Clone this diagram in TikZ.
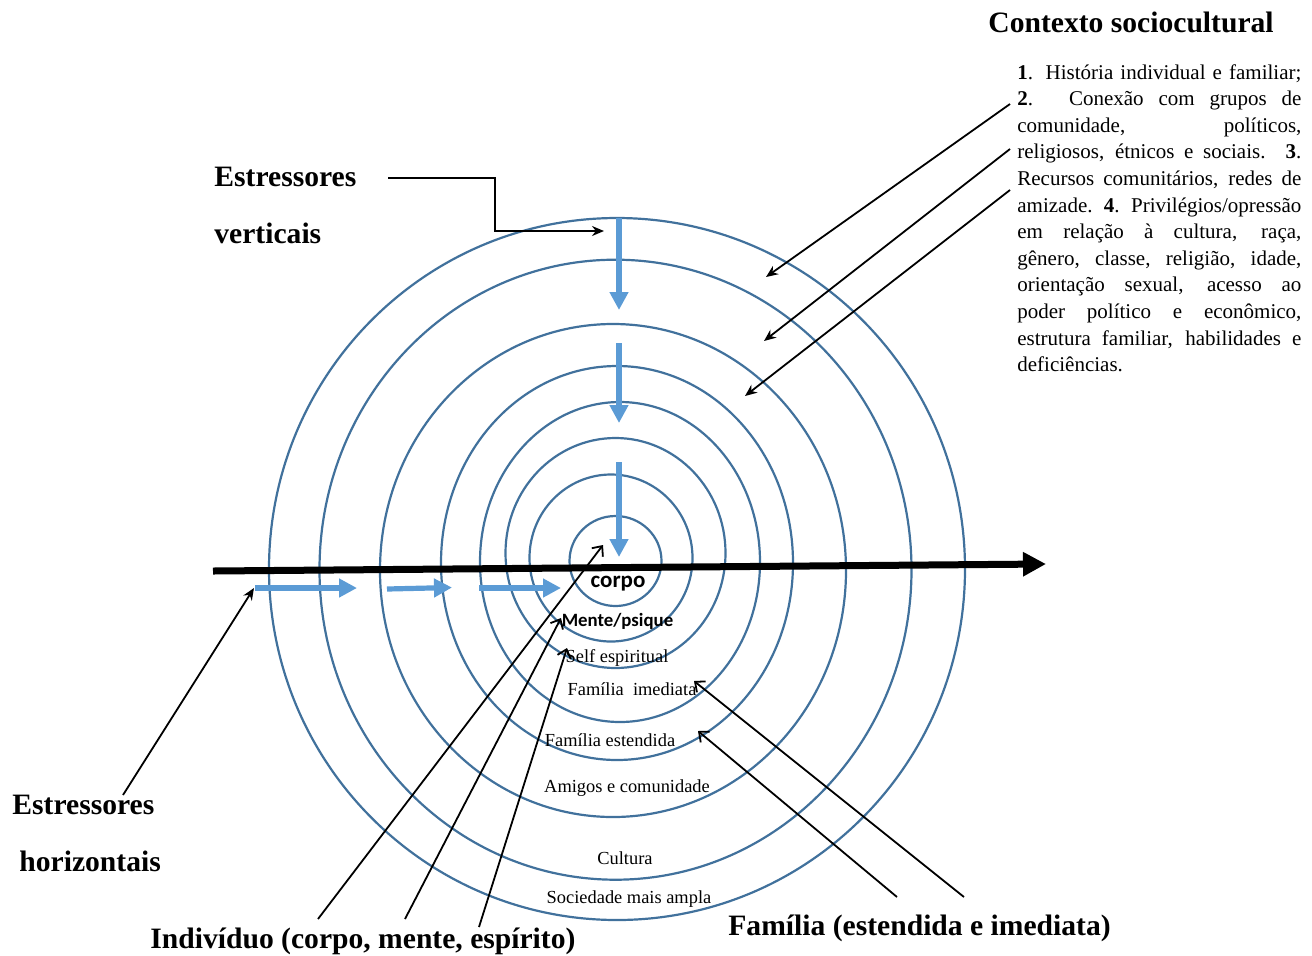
\documentclass[tikz,border=0pt]{standalone}
\usepackage{fontspec}
\setmainfont{Liberation Serif}
\newfontfamily\calibfont{Carlito}
\usetikzlibrary{arrows.meta}
\definecolor{ringblue}{RGB}{65,113,156}
\definecolor{flowblue}{RGB}{91,155,213}
\tikzset{
  ring/.style={draw=ringblue, line width=1.1pt},
  flow/.style={draw=flowblue, line width=2.6pt, -{Triangle[length=9pt,width=9pt]}},
  axisline/.style={line width=3.5pt, -{Triangle[length=11.5pt,width=11.5pt]}},
  pointer/.style={line width=0.9pt, -{Stealth[length=6pt,width=5pt]}},
  barb/.style={line width=0.9pt, -{Straight Barb[length=4pt,width=7pt]}},
  heading/.style={inner sep=0pt, anchor=base west, font=\fontsize{14.8}{16}\selectfont\bfseries},
  layer/.style={inner sep=0pt, anchor=base, font=\fontsize{9.2}{10}\selectfont},
}

\begin{document}
\begin{tikzpicture}[x=0.5pt,y=-0.5pt]
  \useasboundingbox (0,0) rectangle (1312,955);
  % the rings, outer to inner
  \foreach \cx/\cy/\rx/\ry in {617/569/348/351, 615.5/569.7/296/310, 613/570.5/233/246.5,
      617/563/176/197, 620/562/140/160, 615.5/553/110/115, 611/558/81.5/83.5, 615.5/561/46/45}
    \draw[ring] (\cx,\cy) ellipse [x radius=\rx, y radius=\ry];

  % horizontal axis
  \coordinate (axL) at (213,571);
  \coordinate (axR) at (1046,564);
  \draw[axisline] (axL) -- (axR);

  % stressor flows
  \draw[flow] (255,588) -- (357,588);
  \draw[flow] (387,589) -- (452,587.5);
  \draw[flow] (479,588) -- (561,588);
  \draw[flow] (619,218) -- (619,310);
  \draw[flow] (619,343) -- (619,423);
  \draw[flow] (619,462) -- (619,557);

  % ring labels
  \node[inner sep=0pt, anchor=base, font=\calibfont\bfseries\fontsize{11.5}{12}\selectfont] (corpo) at (618,587) {corpo};
  \node[inner sep=0pt, anchor=base, font=\calibfont\bfseries\fontsize{9.4}{10}\selectfont] (mente) at (617.5,626) {Mente/psique};
  \node[layer] (self) at (617,662) {Self espiritual};
  \node[layer] (famI) at (632,695) {Família\ \ imediata};
  \node[layer] (famE) at (610,746) {Família estendida};
  \node[layer] (amigos) at (627,792) {Amigos e comunidade};
  \node[layer] (cult) at (625,864) {Cultura};
  \node[layer] (soc) at (629,903) {Sociedade mais ampla};

  % headings
  \node[heading] (ctxT) at (988,32) {Contexto sociocultural};
  \node[heading] (vert1) at (214,186) {Estressores};
  \node[heading] (vert2) at (214,243) {verticais};
  \node[heading] (hor1) at (12,814) {Estressores};
  \node[heading] (hor2) at (19,871) {horizontais};
  \node[heading] (indiv) at (150,948) {Indivíduo (corpo, mente, espírito)};
  \node[heading] (fam) at (728,935) {Família (estendida e imediata)};

  % sociocultural context list
  \node[inner sep=0pt, anchor=base west] (ctxList) at (1017,79) {%
    \begin{minipage}[t]{142pt}\fontsize{10.5}{13.3}\selectfont\setlength{\parindent}{0pt}%
    \makebox[\linewidth][s]{\textbf{1}. História individual e familiar;}\\
    \makebox[\linewidth][s]{\textbf{2}. Conexão com grupos de}\\
    \makebox[\linewidth][s]{comunidade, políticos,}\\
    \makebox[\linewidth][s]{religiosos, étnicos e sociais. \textbf{3}.}\\
    \makebox[\linewidth][s]{Recursos comunitários, redes de}\\
    \makebox[\linewidth][s]{amizade. \textbf{4}. Privilégios/opressão}\\
    \makebox[\linewidth][s]{em relação à cultura, raça,}\\
    \makebox[\linewidth][s]{gênero, classe, religião, idade,}\\
    \makebox[\linewidth][s]{orientação sexual, acesso ao}\\
    \makebox[\linewidth][s]{poder político e econômico,}\\
    \makebox[\linewidth][s]{estrutura familiar, habilidades e}\\
    deficiências.
    \end{minipage}};

  % vertical stressors pointer
  \coordinate (vStart) at (388,178);
  \coordinate (vBend) at (495,205);
  \coordinate (vTip) at (604,231);
  \draw[pointer] (vStart) -| (vBend) |- (vTip);

  % horizontal stressors pointer
  \coordinate (hStart) at (123,795);
  \coordinate (hTip) at (254,588);
  \draw[pointer] (hStart) -- (hTip);

  % context pointers
  \coordinate (ctx1) at (1010,104);
  \coordinate (ctx2) at (1010,149);
  \coordinate (ctx3) at (1010,190);
  \coordinate (ctx1t) at (766,277);
  \coordinate (ctx2t) at (764,341);
  \coordinate (ctx3t) at (745,396);
  \draw[pointer] (ctx1) -- (ctx1t);
  \draw[pointer] (ctx2) -- (ctx2t);
  \draw[pointer] (ctx3) -- (ctx3t);

  % individual pointers
  \coordinate (ind1) at (318,919);
  \coordinate (ind2) at (405,919);
  \coordinate (ind3) at (479,927);
  \coordinate (ind1t) at (603,545);
  \coordinate (ind2t) at (561,618);
  \coordinate (ind3t) at (567,648);
  \draw[barb] (ind1) -- (ind1t);
  \draw[barb] (ind2) -- (ind2t);
  \draw[barb] (ind3) -- (ind3t);

  % family pointers
  \coordinate (fam1) at (964,897);
  \coordinate (fam2) at (897,897);
  \coordinate (fam1t) at (694,681);
  \coordinate (fam2t) at (698,731);
  \draw[barb] (fam1) -- (fam1t);
  \draw[barb] (fam2) -- (fam2t);
\end{tikzpicture}
\end{document}
